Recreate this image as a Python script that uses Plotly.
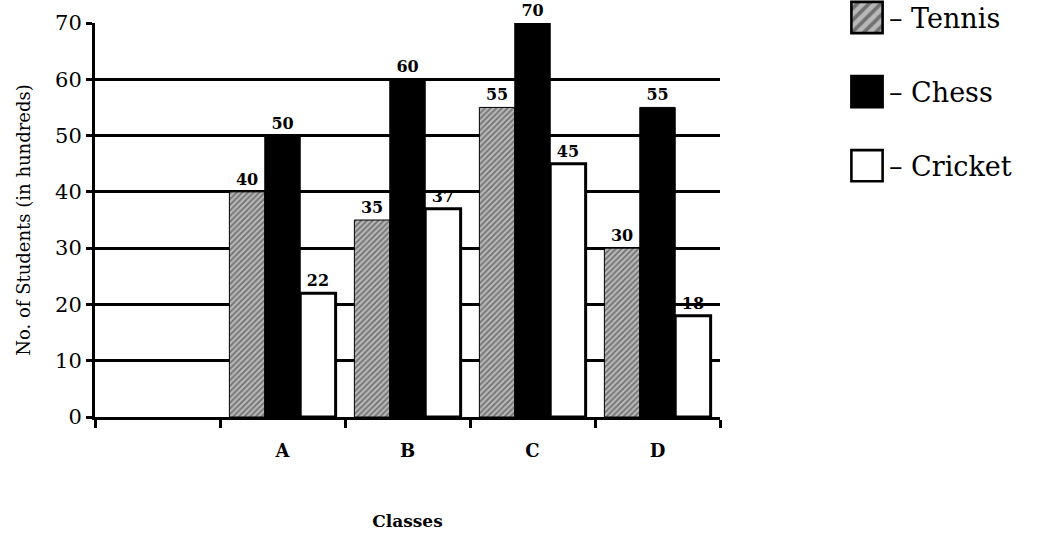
import plotly.graph_objects as go

categories = [" ", "A", "B", "C", "D"]
tennis = [None, 40, 35, 55, 30]
chess = [None, 50, 60, 70, 55]
cricket = [None, 22, 37, 45, 18]
y_ticks = [0, 10, 20, 30, 40, 50, 60, 70]

SERIF = "DejaVu Serif"
label_font = dict(family=SERIF, size=16, color="black", weight="bold")

def labels(vals):
    return [("" if v is None else str(v)) for v in vals]

fig = go.Figure()
fig.add_trace(go.Bar(
    name="– Tennis", x=categories, y=tennis, text=labels(tennis),
    textposition="outside", textfont=label_font, cliponaxis=False,
    marker=dict(color="#8a8a8a", line=dict(color="black", width=1),
                pattern=dict(shape="/", fgcolor="#2a2a2a", bgcolor="#b8b8b8",
                             size=4, solidity=0.45)),
    legendgroup="t",
))
fig.add_trace(go.Bar(
    name="– Chess", x=categories, y=chess, text=labels(chess),
    textposition="outside", textfont=label_font, cliponaxis=False,
    marker=dict(color="black", line=dict(color="black", width=1)),
    legendgroup="c",
))
fig.add_trace(go.Bar(
    name="– Cricket", x=categories, y=cricket, text=labels(cricket),
    textposition="outside", textfont=label_font, cliponaxis=False,
    marker=dict(color="white", line=dict(color="black", width=3)),
    legendgroup="k",
))

fig.update_layout(
    width=1053, height=537,
    margin=dict(l=95, r=333, t=23, b=120, autoexpand=False),
    paper_bgcolor="white", plot_bgcolor="white",
    barmode="group", bargap=0.15, bargroupgap=0.0,
    font=dict(family=SERIF, color="black"),
    uniformtext=dict(minsize=10, mode="show"),
    legend=dict(
        x=1.2, y=1.075, xanchor="left", yanchor="top",
        font=dict(family=SERIF, size=27, color="black"),
        traceorder="grouped", tracegroupgap=36,
        bgcolor="rgba(0,0,0,0)", itemwidth=34,
    ),
    showlegend=True,
)
fig.update_xaxes(
    type="category", tickson="boundaries", ticks="outside", ticklen=8,
    tickwidth=3, tickcolor="black",
    showline=True, linecolor="black", linewidth=3,
    showgrid=False,
    tickfont=dict(family=SERIF, size=18, color="black", weight="bold"),
    ticklabelstandoff=15,
    title=dict(text="<b>Classes</b>", font=dict(family=SERIF, size=17, color="black"),
               standoff=56),
)
fig.update_yaxes(
    range=[0, 70], tickvals=y_ticks, ticks="outside", ticklen=6, tickwidth=3,
    tickcolor="black", showline=True, linecolor="black", linewidth=3,
    showgrid=True, gridcolor="black", gridwidth=2.5,
    zeroline=False,
    tickfont=dict(family=SERIF, size=21, color="black"),
    title=dict(text="No. of Students (in hundreds)",
               font=dict(family=SERIF, size=18, color="black"), standoff=20),
)

post = """
document.body.style.margin = '0';
var gd = document.getElementById('{plot_id}');
gd.querySelectorAll('g.legendpoints path').forEach(function(p) {
    var t = p.getAttribute('transform') || '';
    p.setAttribute('transform', t + ' scale(2.6)');
    p.style.strokeWidth = '1px';
});
"""

fig.write_html("out.html", post_script=post, config={"displayModeBar": False})
